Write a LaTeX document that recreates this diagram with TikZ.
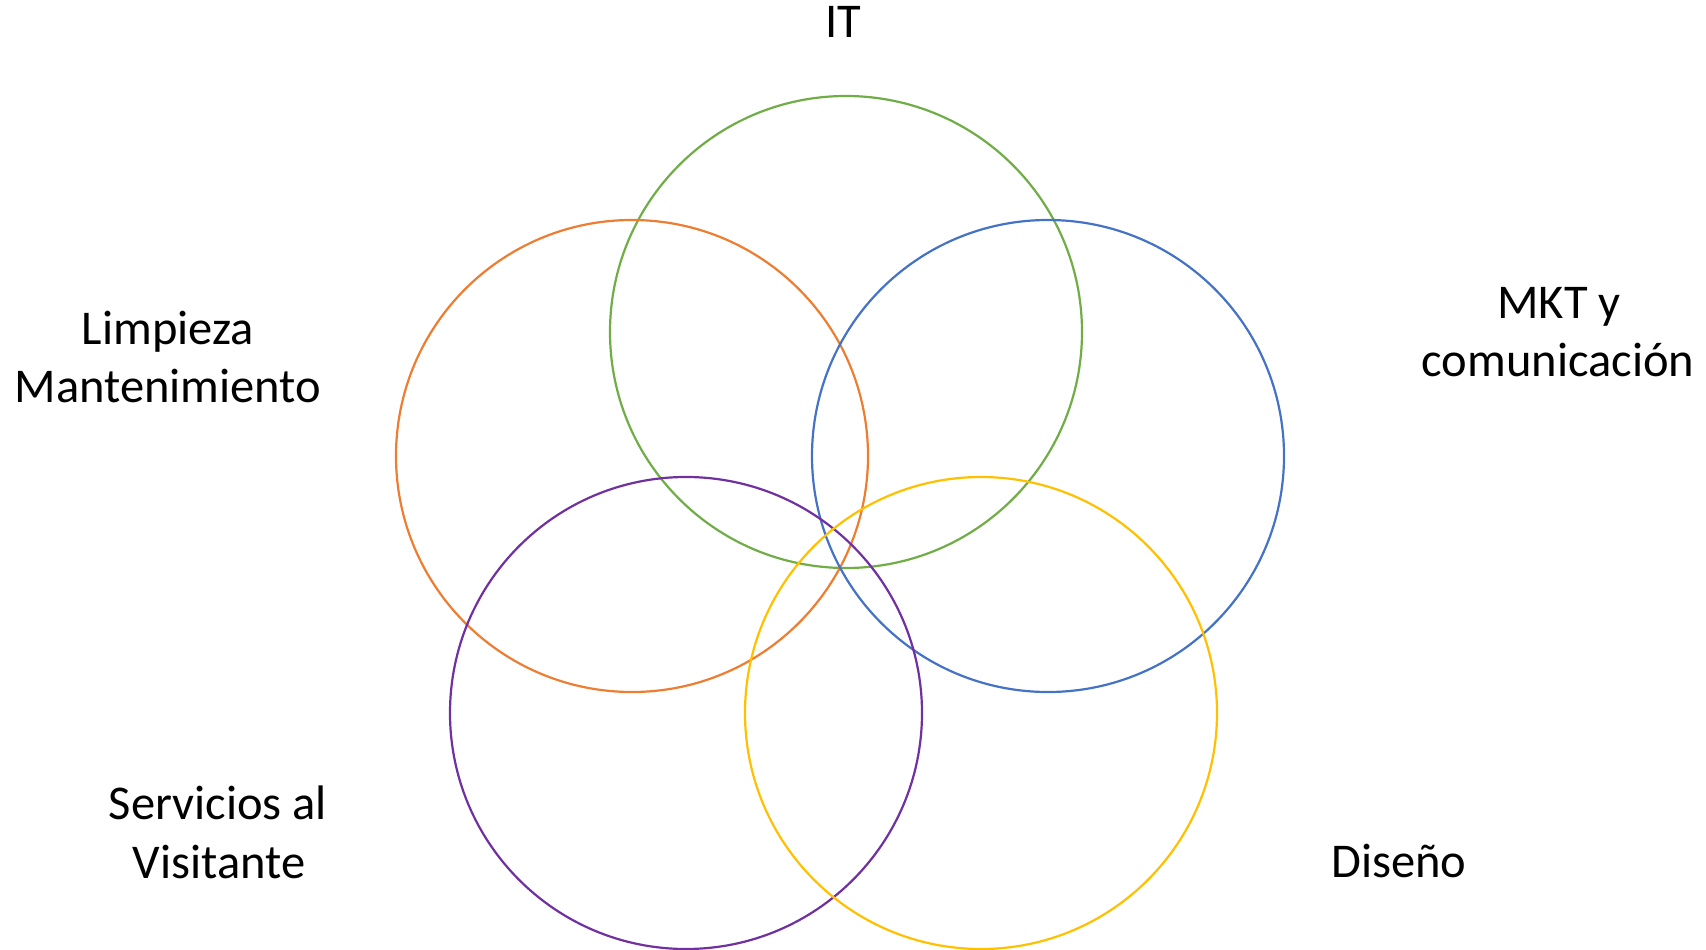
\documentclass[tikz,border=0pt]{standalone}
\usepackage{fontspec}
\setmainfont{Carlito}
\definecolor{cgreen}{RGB}{112,173,71}
\definecolor{corange}{RGB}{237,125,49}
\definecolor{cblue}{RGB}{68,114,196}
\definecolor{cpurple}{RGB}{112,48,160}
\definecolor{cyellow}{RGB}{255,192,0}
\begin{document}
\begin{tikzpicture}[x=1pt,y=-1pt,
  ring/.style={draw=#1,line width=2.2pt},
  lbl/.style={anchor=base,inner sep=0pt,font=\fontsize{48.5}{58}\selectfont}]
\useasboundingbox (0,0) rectangle (1706,950);
\draw[ring=cgreen]  (846,332) circle[radius=236];
\draw[ring=corange] (632,456) circle[radius=236];
\draw[ring=cblue]   (1048,456) circle[radius=236];
\draw[ring=cpurple] (686,713) circle[radius=236];
\draw[ring=cyellow] (981,713) circle[radius=236];
\node[lbl] (it) at (843,38) {IT};
\node[lbl] (lim1) at (168,344) {Limpieza};
\node[lbl] (lim2) at (168,402) {Mantenimiento};
\node[lbl] (mkt1) at (1559,318) {MKT y};
\node[lbl] (mkt2) at (1558,376) {comunicación};
\node[lbl] (ser1) at (218,819) {Servicios al};
\node[lbl] (ser2) at (219,878) {Visitante};
\node[lbl] (dis) at (1399,877) {Diseño};
\end{tikzpicture}
\end{document}
